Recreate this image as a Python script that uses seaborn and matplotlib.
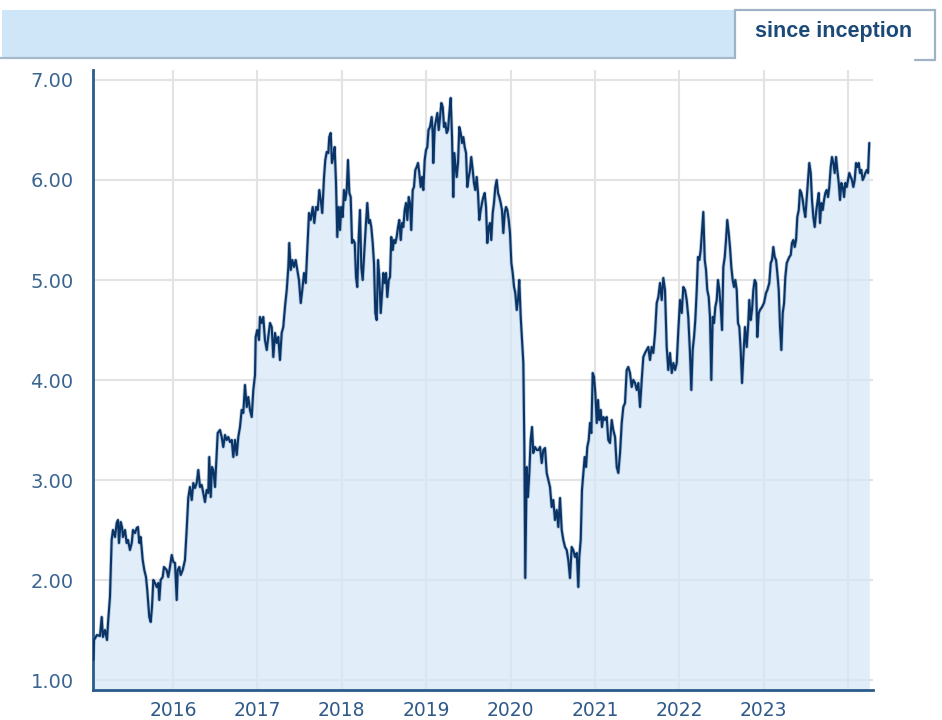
import matplotlib
matplotlib.use("Agg")
import matplotlib.pyplot as plt
from matplotlib.patches import Rectangle
from matplotlib.lines import Line2D
import seaborn as sns

# Fund price history (decimal year, price)
years = [
    2015.055, 2015.064, 2015.099, 2015.135, 2015.155, 2015.170, 2015.194, 2015.218, 2015.230, 2015.253,
    2015.273, 2015.289, 2015.313, 2015.333, 2015.348, 2015.360, 2015.380, 2015.396, 2015.407, 2015.431,
    2015.451, 2015.467, 2015.490, 2015.511, 2015.526, 2015.550, 2015.570, 2015.585, 2015.601, 2015.617,
    2015.641, 2015.660, 2015.680, 2015.695, 2015.719, 2015.736, 2015.751, 2015.767, 2015.787, 2015.807,
    2015.826, 2015.838, 2015.854, 2015.878, 2015.893, 2015.925, 2015.944, 2015.964, 2015.985, 2016.004,
    2016.024, 2016.044, 2016.056, 2016.075, 2016.091, 2016.115, 2016.142, 2016.162, 2016.181, 2016.201,
    2016.222, 2016.241, 2016.261, 2016.281, 2016.300, 2016.320, 2016.340, 2016.359, 2016.379, 2016.399,
    2016.418, 2016.430, 2016.447, 2016.462, 2016.478, 2016.498, 2016.518, 2016.530, 2016.557, 2016.577,
    2016.596, 2016.616, 2016.636, 2016.655, 2016.676, 2016.696, 2016.715, 2016.735, 2016.755, 2016.774,
    2016.794, 2016.814, 2016.833, 2016.853, 2016.874, 2016.892, 2016.913, 2016.933, 2016.952, 2016.972,
    2016.980, 2016.999, 2017.019, 2017.031, 2017.051, 2017.070, 2017.090, 2017.111, 2017.129, 2017.150,
    2017.170, 2017.189, 2017.209, 2017.229, 2017.248, 2017.268, 2017.288, 2017.307, 2017.327, 2017.348,
    2017.367, 2017.378, 2017.395, 2017.414, 2017.434, 2017.454, 2017.473, 2017.493, 2017.514, 2017.532,
    2017.553, 2017.573, 2017.592, 2017.612, 2017.632, 2017.656, 2017.675, 2017.695, 2017.715, 2017.734,
    2017.751, 2017.769, 2017.790, 2017.805, 2017.822, 2017.841, 2017.852, 2017.869, 2017.884, 2017.900,
    2017.916, 2017.932, 2017.947, 2017.964, 2017.979, 2017.995, 2018.011, 2018.027, 2018.042, 2018.059,
    2018.074, 2018.090, 2018.106, 2018.122, 2018.137, 2018.154, 2018.169, 2018.184, 2018.201, 2018.216,
    2018.232, 2018.248, 2018.264, 2018.287, 2018.303, 2018.319, 2018.335, 2018.350, 2018.367, 2018.382,
    2018.398, 2018.414, 2018.430, 2018.445, 2018.462, 2018.477, 2018.493, 2018.509, 2018.525, 2018.540,
    2018.557, 2018.572, 2018.587, 2018.604, 2018.619, 2018.635, 2018.651, 2018.667, 2018.682, 2018.699,
    2018.714, 2018.730, 2018.746, 2018.762, 2018.777, 2018.794, 2018.809, 2018.824, 2018.841, 2018.856,
    2018.872, 2018.888, 2018.904, 2018.919, 2018.936, 2018.951, 2018.967, 2018.983, 2018.999, 2019.014,
    2019.028, 2019.046, 2019.066, 2019.078, 2019.085, 2019.102, 2019.117, 2019.133, 2019.149, 2019.165,
    2019.180, 2019.197, 2019.212, 2019.227, 2019.244, 2019.259, 2019.275, 2019.291, 2019.307, 2019.322,
    2019.334, 2019.346, 2019.362, 2019.378, 2019.393, 2019.410, 2019.425, 2019.441, 2019.457, 2019.473,
    2019.488, 2019.505, 2019.520, 2019.535, 2019.552, 2019.567, 2019.583, 2019.599, 2019.615, 2019.630,
    2019.647, 2019.662, 2019.678, 2019.694, 2019.710, 2019.725, 2019.742, 2019.757, 2019.772, 2019.789,
    2019.804, 2019.820, 2019.836, 2019.852, 2019.867, 2019.884, 2019.899, 2019.915, 2019.931, 2019.947,
    2019.962, 2019.979, 2019.994, 2020.010, 2020.026, 2020.042, 2020.057, 2020.074, 2020.089, 2020.104,
    2020.121, 2020.136, 2020.152, 2020.164, 2020.175, 2020.192, 2020.207, 2020.223, 2020.239, 2020.255,
    2020.270, 2020.290, 2020.311, 2020.330, 2020.350, 2020.370, 2020.389, 2020.409, 2020.429, 2020.448,
    2020.468, 2020.488, 2020.507, 2020.527, 2020.548, 2020.567, 2020.587, 2020.607, 2020.626, 2020.646,
    2020.666, 2020.685, 2020.705, 2020.725, 2020.744, 2020.764, 2020.785, 2020.804, 2020.815, 2020.832,
    2020.847, 2020.863, 2020.879, 2020.895, 2020.910, 2020.927, 2020.942, 2020.958, 2020.974, 2020.990,
    2021.005, 2021.022, 2021.037, 2021.052, 2021.069, 2021.084, 2021.100, 2021.120, 2021.140, 2021.159,
    2021.179, 2021.199, 2021.218, 2021.239, 2021.259, 2021.278, 2021.298, 2021.318, 2021.337, 2021.357,
    2021.377, 2021.396, 2021.416, 2021.436, 2021.455, 2021.476, 2021.496, 2021.515, 2021.535, 2021.555,
    2021.574, 2021.594, 2021.614, 2021.633, 2021.653, 2021.673, 2021.692, 2021.713, 2021.733, 2021.752,
    2021.772, 2021.792, 2021.811, 2021.831, 2021.851, 2021.870, 2021.890, 2021.911, 2021.930, 2021.950,
    2021.970, 2021.989, 2022.009, 2022.029, 2022.048, 2022.068, 2022.088, 2022.107, 2022.127, 2022.143,
    2022.159, 2022.175, 2022.190, 2022.207, 2022.222, 2022.238, 2022.254, 2022.270, 2022.285, 2022.302,
    2022.317, 2022.332, 2022.349, 2022.364, 2022.380, 2022.396, 2022.412, 2022.427, 2022.444, 2022.459,
    2022.475, 2022.491, 2022.507, 2022.522, 2022.539, 2022.554, 2022.569, 2022.586, 2022.601, 2022.617,
    2022.633, 2022.649, 2022.664, 2022.681, 2022.696, 2022.712, 2022.728, 2022.744, 2022.759, 2022.779,
    2022.799, 2022.818, 2022.830, 2022.847, 2022.862, 2022.878, 2022.894, 2022.910, 2022.925, 2022.942,
    2022.957, 2022.981, 2023.004, 2023.028, 2023.044, 2023.067, 2023.084, 2023.099, 2023.115, 2023.131,
    2023.147, 2023.162, 2023.179, 2023.194, 2023.210, 2023.226, 2023.242, 2023.257, 2023.274, 2023.289,
    2023.304, 2023.321, 2023.336, 2023.352, 2023.368, 2023.384, 2023.399, 2023.416, 2023.431, 2023.447,
    2023.463, 2023.479, 2023.494, 2023.511, 2023.526, 2023.541, 2023.558, 2023.573, 2023.589, 2023.605,
    2023.621, 2023.636, 2023.653, 2023.668, 2023.684, 2023.700, 2023.716, 2023.731, 2023.748, 2023.763,
    2023.778, 2023.795, 2023.810, 2023.826, 2023.842, 2023.858, 2023.873, 2023.890, 2023.905, 2023.921,
    2023.937, 2023.953, 2023.968, 2023.985, 2024.000, 2024.015, 2024.032, 2024.047, 2024.063, 2024.079,
    2024.095, 2024.110, 2024.127, 2024.142, 2024.158, 2024.174, 2024.190, 2024.205, 2024.222, 2024.237,
    2024.252,
]

nav = [
    1.20, 1.40, 1.45, 1.44, 1.63, 1.43, 1.50, 1.40, 1.57, 1.83,
    2.40, 2.50, 2.43, 2.57, 2.60, 2.37, 2.58, 2.53, 2.43, 2.50,
    2.37, 2.40, 2.30, 2.37, 2.50, 2.47, 2.52, 2.53, 2.37, 2.43,
    2.20, 2.10, 2.03, 1.90, 1.63, 1.58, 1.73, 2.00, 1.97, 1.93,
    1.97, 1.80, 2.00, 2.03, 2.13, 2.10, 2.03, 2.13, 2.25, 2.18,
    2.17, 1.80, 2.10, 2.13, 2.05, 2.10, 2.20, 2.50, 2.82, 2.93,
    2.80, 2.97, 2.92, 2.97, 3.10, 2.93, 2.95, 2.87, 2.78, 2.90,
    2.87, 3.23, 2.83, 3.13, 3.10, 2.93, 3.27, 3.47, 3.50, 3.43,
    3.33, 3.45, 3.40, 3.43, 3.38, 3.40, 3.23, 3.40, 3.25, 3.43,
    3.53, 3.70, 3.67, 3.95, 3.73, 3.83, 3.70, 3.63, 3.90, 4.05,
    4.43, 4.50, 4.40, 4.63, 4.57, 4.63, 4.40, 4.30, 4.43, 4.57,
    4.53, 4.23, 4.47, 4.37, 4.43, 4.20, 4.47, 4.53, 4.73, 4.90,
    5.13, 5.37, 5.10, 5.20, 5.13, 5.20, 5.10, 5.00, 4.77, 4.90,
    5.07, 4.97, 5.30, 5.67, 5.60, 5.73, 5.57, 5.73, 5.70, 5.90,
    5.80, 5.67, 6.03, 6.20, 6.28, 6.27, 6.43, 6.47, 6.17, 6.23,
    6.33, 5.97, 5.43, 5.73, 5.50, 5.73, 5.63, 5.90, 5.80, 5.90,
    6.20, 5.87, 5.83, 5.37, 5.40, 5.37, 5.03, 4.93, 5.43, 5.70,
    5.13, 5.00, 5.23, 5.57, 5.77, 5.57, 5.60, 5.53, 5.37, 5.17,
    4.67, 4.60, 5.20, 5.03, 4.67, 4.87, 5.07, 4.97, 5.07, 4.83,
    5.00, 5.03, 5.43, 5.30, 5.40, 5.37, 5.43, 5.53, 5.60, 5.40,
    5.57, 5.53, 5.70, 5.77, 5.60, 5.83, 5.77, 5.50, 5.90, 5.93,
    6.10, 6.13, 6.17, 6.07, 5.93, 6.03, 5.90, 6.20, 6.30, 6.33,
    6.50, 6.53, 6.63, 6.47, 6.17, 6.53, 6.60, 6.67, 6.50, 6.63,
    6.77, 6.73, 6.53, 6.57, 6.47, 6.50, 6.67, 6.82, 6.43, 5.83,
    6.27, 6.17, 6.03, 6.17, 6.53, 6.47, 6.37, 6.43, 6.33, 6.27,
    5.93, 6.03, 6.10, 6.23, 6.10, 5.97, 5.90, 6.03, 5.87, 5.60,
    5.70, 5.77, 5.83, 5.87, 5.73, 5.37, 5.53, 5.57, 5.40, 5.67,
    5.77, 5.93, 6.00, 5.87, 5.83, 5.77, 5.70, 5.47, 5.67, 5.73,
    5.70, 5.60, 5.47, 5.17, 5.07, 4.93, 4.87, 4.70, 4.80, 5.00,
    4.63, 4.40, 4.17, 3.33, 2.02, 3.13, 2.83, 3.07, 3.40, 3.53,
    3.27, 3.33, 3.30, 3.30, 3.33, 3.17, 3.30, 3.32, 3.07, 3.00,
    2.93, 2.73, 2.80, 2.60, 2.70, 2.53, 2.82, 2.50, 2.40, 2.33,
    2.30, 2.20, 2.02, 2.33, 2.30, 2.23, 2.27, 1.93, 2.23, 2.40,
    2.90, 3.07, 3.23, 3.13, 3.33, 3.40, 3.57, 3.47, 4.07, 4.03,
    3.87, 3.57, 3.80, 3.60, 3.70, 3.53, 3.63, 3.60, 3.63, 3.40,
    3.37, 3.60, 3.50, 3.43, 3.13, 3.07, 3.27, 3.57, 3.73, 3.77,
    4.10, 4.13, 4.07, 3.93, 4.00, 3.97, 3.90, 3.97, 3.73, 4.00,
    4.23, 4.27, 4.30, 4.33, 4.20, 4.33, 4.27, 4.47, 4.77, 4.83,
    4.97, 4.80, 5.02, 4.90, 4.33, 4.10, 4.27, 4.07, 4.17, 4.10,
    4.17, 4.50, 4.80, 4.67, 4.93, 4.90, 4.80, 4.63, 4.27, 3.90,
    4.30, 4.43, 4.60, 4.90, 5.23, 5.20, 5.30, 5.50, 5.68, 5.20,
    5.10, 4.90, 4.83, 4.63, 4.00, 4.63, 4.57, 4.73, 4.80, 5.00,
    4.90, 4.73, 4.50, 5.13, 5.23, 5.40, 5.60, 5.47, 5.33, 5.13,
    5.00, 4.93, 5.00, 4.90, 4.57, 4.53, 4.30, 3.97, 4.23, 4.53,
    4.33, 4.57, 4.80, 4.60, 4.70, 4.90, 5.00, 4.97, 4.43, 4.67,
    4.70, 4.73, 4.77, 4.87, 4.90, 4.97, 5.17, 5.20, 5.33, 5.23,
    5.20, 5.07, 4.90, 4.53, 4.30, 4.67, 4.77, 5.03, 5.17, 5.20,
    5.23, 5.25, 5.37, 5.40, 5.33, 5.40, 5.63, 5.70, 5.90, 5.87,
    5.80, 5.70, 5.63, 5.83, 6.00, 6.17, 6.07, 5.80, 5.63, 5.53,
    5.67, 5.77, 5.87, 5.57, 5.77, 5.70, 5.80, 5.87, 5.90, 5.83,
    5.93, 6.13, 6.23, 6.17, 6.07, 6.23, 6.10, 5.97, 5.80, 5.97,
    5.93, 5.83, 5.97, 5.93, 6.00, 6.07, 6.03, 6.00, 5.93, 6.00,
    6.17, 6.13, 6.17, 6.07, 6.10, 6.00, 6.03, 6.07, 6.10, 6.07,
    6.37,
]

year_ticks = [2016, 2017, 2018, 2019, 2020, 2021, 2022, 2023, 2024]
year_labels = ["2016", "2017", "2018", "2019", "2020", "2021", "2022", "2023", ""]
price_ticks = [1, 2, 3, 4, 5, 6, 7]
price_labels = ["1.00", "2.00", "3.00", "4.00", "5.00", "6.00", "7.00"]
tab_label = "since inception"

sns.set_style("white")
plt.rcParams["font.family"] = ["DejaVu Sans"]

W, H = 942, 720
fig = plt.figure(figsize=(W / 100, H / 100), dpi=100)
fig.patch.set_facecolor("white")

# header band with the period tab
fig.add_artist(Rectangle((2 / W, 1 - 57 / H), 733 / W, 47 / H, transform=fig.transFigure,
                         facecolor="#cfe5f8", edgecolor="none"))
fig.add_artist(Line2D([0, 735 / W], [1 - 57.5 / H] * 2, transform=fig.transFigure,
                      color="#a5b8cb", lw=1.6))
fig.add_artist(Rectangle((735 / W, 1 - 60 / H), 200 / W, 50 / H, transform=fig.transFigure,
                         facecolor="white", edgecolor="none"))
tab_edge = dict(transform=fig.transFigure, color="#9fb2c6", lw=1.6)
fig.add_artist(Line2D([735 / W, 735 / W], [1 - 58 / H, 1 - 10 / H], **tab_edge))
fig.add_artist(Line2D([735 / W, 935 / W], [1 - 10 / H, 1 - 10 / H], **tab_edge))
fig.add_artist(Line2D([935 / W, 935 / W], [1 - 10 / H, 1 - 60 / H], **tab_edge))
fig.add_artist(Line2D([915 / W, 935 / W], [1 - 60 / H, 1 - 60 / H], **tab_edge))
fig.text(834 / W, 1 - 32 / H, tab_label, ha="center", va="center", fontsize=15.5,
         fontweight="bold", color="#1b4a78", family=["Liberation Sans", "DejaVu Sans"])

# price chart
ax = fig.add_axes([93 / W, 30 / H, 780 / W, 620 / H])
y_floor, y_top = 0.9, 7.1
ax.set_xlim(2015.052, 2024.296)
ax.set_ylim(y_floor, y_top)
ax.set_axisbelow(True)
ax.grid(True, color="#e3e3e3", linewidth=1.5)

ax.fill_between(years, nav, y_floor, color="#d6e7f6", alpha=0.72, linewidth=0, zorder=1)
# soft halo under the price line, then the line itself
sns.lineplot(x=years, y=nav, ax=ax, color="#7d9fc4", linewidth=2.6, alpha=0.55, zorder=2)
sns.lineplot(x=years, y=nav, ax=ax, color="#0a3466", linewidth=1.5, zorder=3)

ax.set_xticks(year_ticks)
ax.set_xticklabels(year_labels)
ax.set_yticks(price_ticks)
ax.set_yticklabels(price_labels)
ax.tick_params(axis="x", length=6, width=1.5, color="#e3e3e3", labelcolor="#2f5a88",
               labelsize=13.5, pad=2)
ax.tick_params(axis="y", length=0, labelcolor="#3a6591", labelsize=14, pad=14)
ax.set_xlabel("")
ax.set_ylabel("")

for side in ("top", "right"):
    ax.spines[side].set_visible(False)
for side in ("left", "bottom"):
    ax.spines[side].set_color("#2b5a8b")
    ax.spines[side].set_linewidth(2)

fig.savefig("out.png", dpi=100, facecolor="white")
